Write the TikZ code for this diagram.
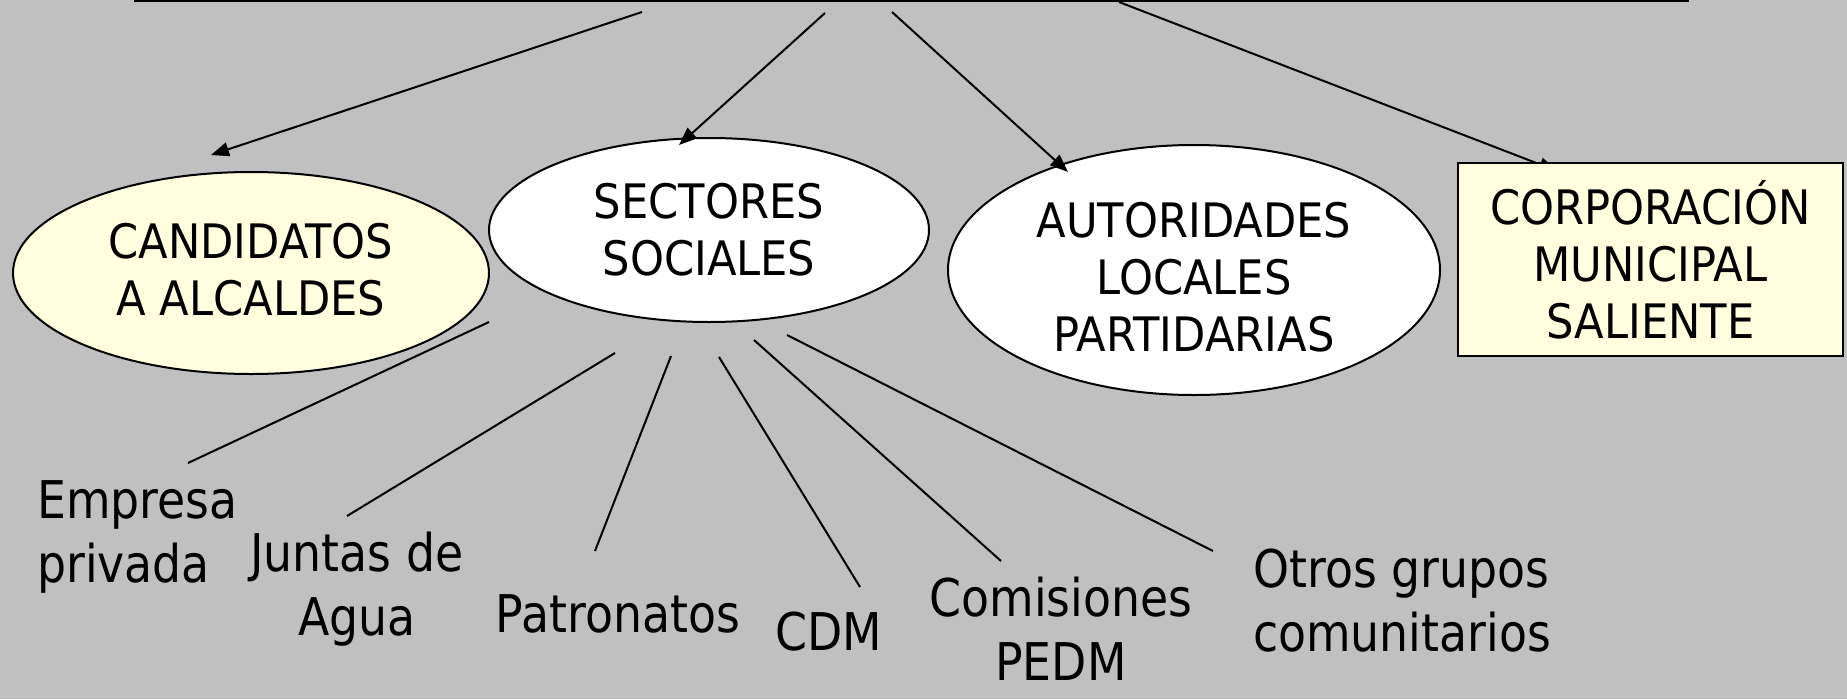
\documentclass[tikz,border=0pt]{standalone}
\usepackage{fontspec}
\setmainfont[FakeStretch=0.88]{DejaVu Sans}
\newfontfamily\elipsefont[FakeStretch=0.91]{DejaVu Sans}
\usetikzlibrary{shapes.geometric,arrows.meta,positioning}
\definecolor{fondo}{RGB}{192,192,192}
\definecolor{crema}{RGB}{255,255,224}
\definecolor{oliva}{RGB}{128,128,72}

\begin{document}
\begin{tikzpicture}[
    x=1pt, y=-1pt,
    % Estilos base
    elipse/.style={ellipse, draw=black, line width=2pt, inner sep=0pt, align=center, font=\elipsefont\fontsize{47.5}{57}\selectfont},
    caja/.style={rectangle, draw=black, line width=2pt, fill=crema, inner sep=0pt, align=center, font=\elipsefont\fontsize{47.5}{57}\selectfont},
    barra/.style={rectangle, draw=black, line width=2.5pt, fill=oliva, minimum width=1553pt, minimum height=40pt},
    % Flechas
    flecha/.style={-{Triangle[length=18pt,width=14pt]}, line width=2pt},
    rama/.style={line width=2pt},
    % Texto
    etiqueta/.style={inner sep=0pt, align=center, font=\fontsize{52}{64}\selectfont}
]

% === FONDO ===
\fill[fondo] (0,0) rectangle (1847,699);
\useasboundingbox (0,0) rectangle (1847,699);
\clip (0,0) rectangle (1847,699);

% === MARCO SUPERIOR ===
\node[barra, anchor=south] (marco) at (911.5,2) {};

% === ACTORES ===
\node[elipse, fill=crema, minimum width=476pt, minimum height=202pt] (cand) at (251,273) {CANDIDATOS\\A ALCALDES\rule[-7pt]{0pt}{7pt}};
\node[elipse, fill=white, minimum width=440pt, minimum height=184pt] (sect) at (709,230) {SECTORES\\SOCIALES};
\node[elipse, fill=white, minimum width=492pt, minimum height=250pt] (aut) at (1194,270) {\rule{0pt}{49pt}AUTORIDADES\\LOCALES\\PARTIDARIAS};

% Puntas de las flechas
\coordinate (f1a) at (642,12);   \coordinate (f1b) at (211,155);
\coordinate (f2a) at (825,13);   \coordinate (f2b) at (679,145);
\coordinate (f3a) at (892,12);   \coordinate (f3b) at (1068,172);
\coordinate (f4a) at (1119,2);   \coordinate (f4b) at (1557,171);

% Flechas
\draw[flecha] (f1a) -- (f1b);
\draw[flecha] (f2a) -- (f2b);
\draw[flecha] (f3a) -- (f3b);
\draw[flecha] (f4a) -- (f4b);

\node[caja, minimum width=385pt, minimum height=193pt] (corp) at (1650.5,259.5) {CORPORACIÓN\\MUNICIPAL\\SALIENTE};

% === SECTORES SOCIALES ===
\node[etiqueta, anchor=north west, align=left] (emp) at (37,480) {Empresa\\privada};
\node[etiqueta, anchor=north] (jun) at (357,532) {Juntas de\\Agua};
\node[etiqueta, anchor=base] (pat) at (618,632) {Patronatos};
\node[etiqueta, anchor=base] (cdm) at (829,650) {CDM};
\node[etiqueta, anchor=north] (com) at (1061,577) {Comisiones\\PEDM};
\node[etiqueta, anchor=north west, align=left] (otr) at (1253,549) {Otros grupos\\comunitarios};

% Ramas
\coordinate (r1a) at (489,322);  \coordinate (r1b) at (188,463);
\coordinate (r2a) at (615,353);  \coordinate (r2b) at (347,516);
\coordinate (r3a) at (671,356);  \coordinate (r3b) at (595,551);
\coordinate (r4a) at (719,357);  \coordinate (r4b) at (860,587);
\coordinate (r5a) at (754,340);  \coordinate (r5b) at (1001,561);
\coordinate (r6a) at (787,335);  \coordinate (r6b) at (1213,551);

\draw[rama] (r1a) -- (r1b);
\draw[rama] (r2a) -- (r2b);
\draw[rama] (r3a) -- (r3b);
\draw[rama] (r4a) -- (r4b);
\draw[rama] (r5a) -- (r5b);
\draw[rama] (r6a) -- (r6b);

\end{tikzpicture}
\end{document}
